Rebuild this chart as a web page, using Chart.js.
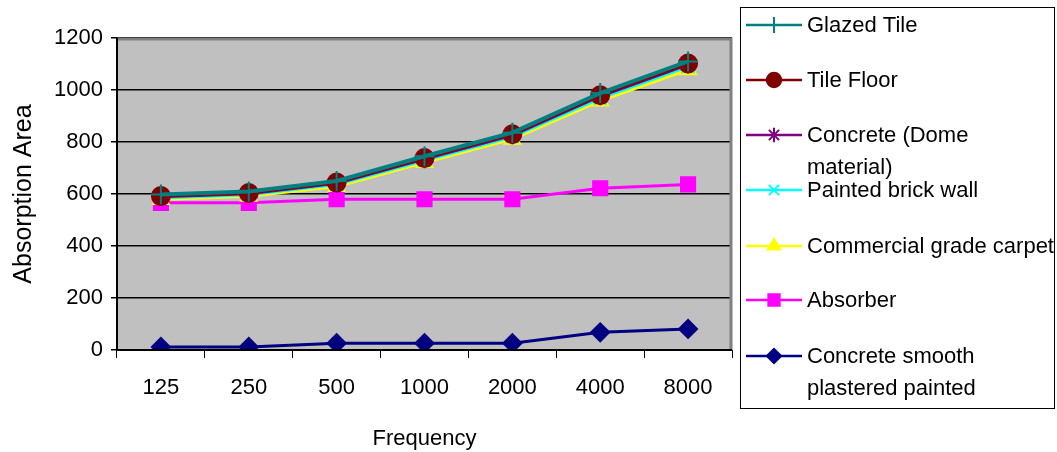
<!DOCTYPE html>
<html>
<head>
<meta charset="utf-8">
<script src="https://cdn.jsdelivr.net/npm/chart.js@4.4.1/dist/chart.umd.min.js"></script>
<style>
  html, body { margin: 0; padding: 0; background: #fff; }
  #wrap { width: 1057px; height: 452px; }
</style>
</head>
<body>
<div id="wrap"><canvas id="absorptionChart" width="1057" height="452"></canvas></div>
<script>
const frequencies = ['125', '250', '500', '1000', '2000', '4000', '8000'];

const glazedTile = [598, 610, 650, 745, 836, 988, 1110];
const tileFloor = [592, 604, 644, 738, 830, 980, 1102];
const concreteDome = [589, 601, 641, 734, 826, 976, 1098];
const paintedBrick = [585, 597, 636, 729, 820, 968, 1090];
const carpet = [579, 591, 629, 721, 811, 958, 1078];
const absorber = [566, 566, 580, 580, 580, 622, 637];
const concreteSmooth = [12, 12, 26, 26, 26, 68, 81];

const yTicks = [0, 200, 400, 600, 800, 1000, 1200];

const FONT = 'Liberation Sans, Arial, sans-serif';

const makeSet = (label, data, color, pointStyle, radius, width, legendLines) => ({
    label: label,
    legendLines: legendLines || [label],
    data: data,
    borderColor: color,
    backgroundColor: color,
    pointBackgroundColor: color,
    pointBorderColor: color,
    pointStyle: pointStyle,
    pointRadius: radius,
    pointHoverRadius: radius,
    pointBorderWidth: 2,
    borderWidth: width,
    tension: 0,
    fill: false
});

// plot area background + grey top/right frame
const plotFrame = {
    id: 'plotFrame',
    beforeDraw(chart) {
        const { ctx, chartArea: a } = chart;
        ctx.save();
        ctx.fillStyle = '#c0c0c0';
        ctx.fillRect(a.left, a.top, a.right - a.left, a.bottom - a.top);
        ctx.restore();
    },
    afterDatasetsDraw(chart) {
        const { ctx, chartArea: a } = chart;
        ctx.save();
        ctx.strokeStyle = '#808080';
        ctx.lineWidth = 3;
        ctx.beginPath();
        ctx.moveTo(a.left, a.top + 1);
        ctx.lineTo(a.right - 1, a.top + 1);
        ctx.lineTo(a.right - 1, a.bottom);
        ctx.stroke();
        ctx.strokeStyle = '#000';
        ctx.lineWidth = 2;
        ctx.beginPath();
        ctx.moveTo(a.left, a.top);
        ctx.lineTo(a.left, a.bottom);
        ctx.lineTo(a.right, a.bottom);
        ctx.stroke();
        ctx.restore();
    }
};

// boxed legend on the right, line sample with marker in the middle
const boxLegend = {
    id: 'boxLegend',
    afterDraw(chart) {
        const ctx = chart.ctx;
        ctx.save();
        ctx.strokeStyle = '#000';
        ctx.lineWidth = 1;
        ctx.strokeRect(740.5, 7.5, 314, 401);
        ctx.font = '22px ' + FONT;
        ctx.textBaseline = 'middle';
        ctx.textAlign = 'left';
        const rows = [25, 80, 135, 190, 246, 300, 356];
        chart.data.datasets.forEach((ds, i) => {
            const y = rows[i];
            ctx.strokeStyle = ds.borderColor;
            ctx.lineWidth = 2.5;
            ctx.beginPath();
            ctx.moveTo(746, y);
            ctx.lineTo(802, y);
            ctx.stroke();
            ctx.fillStyle = ds.borderColor;
            ctx.lineWidth = 2;
            Chart.helpers.drawPoint(ctx, {
                pointStyle: ds.pointStyle,
                radius: ds.pointRadius * 0.8,
                rotation: 0,
                borderWidth: 2
            }, 774, y);
            ctx.fillStyle = '#000';
            ds.legendLines.forEach((t, k) => ctx.fillText(t, 807, y + 1 + k * 32));
        });
        ctx.restore();
    }
};

new Chart(document.getElementById('absorptionChart').getContext('2d'), {
    type: 'line',
    data: {
        labels: frequencies,
        datasets: [
            makeSet('Glazed Tile', glazedTile, '#008080', 'cross', 10, 4),
            makeSet('Tile Floor', tileFloor, '#800000', 'circle', 9, 3),
            makeSet('Concrete (Dome material)', concreteDome, '#800080', 'star', 9, 3, ['Concrete (Dome', 'material)']),
            makeSet('Painted brick wall', paintedBrick, '#00ffff', 'crossRot', 9, 3),
            makeSet('Commercial grade carpet', carpet, '#ffff00', 'triangle', 9, 3),
            makeSet('Absorber', absorber, '#ff00ff', 'rect', 10, 3),
            makeSet('Concrete smooth plastered painted', concreteSmooth, '#000080', 'rectRot', 9, 3, ['Concrete smooth', 'plastered painted'])
        ]
    },
    options: {
        responsive: false,
        animation: false,
        layout: { padding: { top: 38, right: 325, left: 0, bottom: 0 } },
        plugins: {
            legend: { display: false },
            tooltip: { enabled: false }
        },
        scales: {
            x: {
                offset: true,
                grid: {
                    offset: true,
                    drawOnChartArea: false,
                    drawTicks: true,
                    tickLength: 8,
                    tickColor: '#000',
                    tickWidth: 1
                },
                border: { display: false },
                ticks: { color: '#000', font: { family: FONT, size: 22 }, padding: 17, maxRotation: 0 },
                title: { display: true, text: 'Frequency', color: '#000', font: { family: FONT, size: 22 }, padding: { top: 10, bottom: 0 } },
                afterFit(scale) { scale.height = 102; }
            },
            y: {
                min: 0,
                max: 1200,
                afterBuildTicks(scale) { scale.ticks = yTicks.map(v => ({ value: v })); },
                grid: {
                    color: '#000',
                    lineWidth: 1.5,
                    drawTicks: true,
                    tickLength: 6,
                    tickColor: '#000'
                },
                border: { display: false },
                ticks: {
                    color: '#000',
                    font: { family: FONT, size: 22 },
                    padding: 8,
                    callback: v => String(v)
                },
                title: { display: true, text: 'Absorption Area', color: '#000', font: { family: FONT, size: 25 }, padding: { top: 9, bottom: 0 } },
                afterFit(scale) { scale.width = 117; }
            }
        }
    },
    plugins: [plotFrame, boxLegend]
});
</script>
</body>
</html>
